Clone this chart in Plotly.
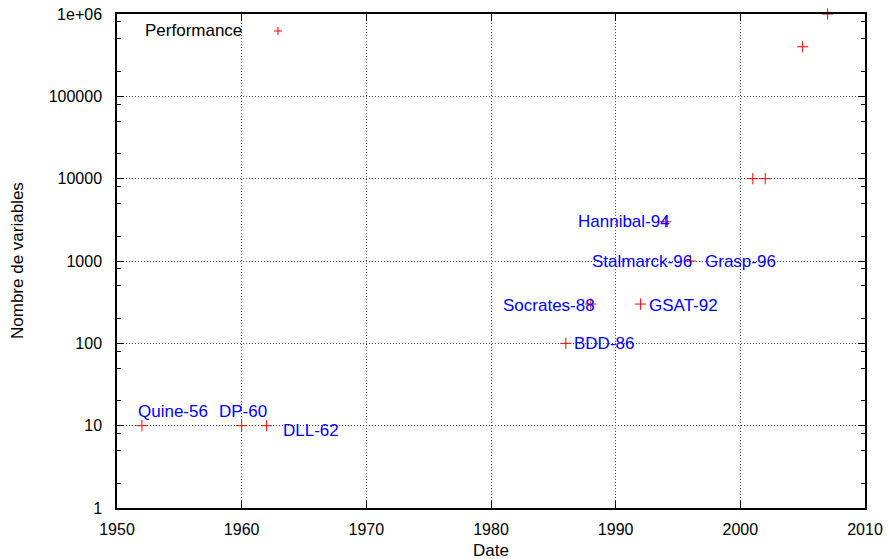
import math
import plotly.graph_objects as go

# Solver milestones: year and number of variables handled
years = [1952, 1960, 1962, 1986, 1988, 1992, 1994, 1996, 2001, 2002, 2005, 2007]
variables = [10, 10, 10, 100, 300, 300, 3000, 1000, 10000, 10000, 400000, 1000000]

# Named solvers shown as labels next to their points
label_names = ["Quine-56", "DP-60", "DLL-62", "BDD-86", "Socrates-88", "GSAT-92",
               "Hannibal-94", "Stalmarck-96", "Grasp-96"]
label_years = [1952, 1960, 1962, 1986, 1988, 1992, 1994, 1996, 1996]
label_vars = [10, 10, 10, 100, 300, 300, 3000, 1000, 1000]

x_ticks = [1950, 1960, 1970, 1980, 1990, 2000, 2010]
y_ticks = [1, 10, 100, 1000, 10000, 100000, 1000000]
y_tick_text = ["1", "10", "100", "1000", "10000", "100000", "1e+06"]

FONT = "Liberation Sans, Arial, Helvetica, sans-serif"
FS = 17
TICK_FS = 16

# label placement: (xanchor, xshift, yshift) in pixels
label_style = {
    "Quine-56": ("left", -6, 14),
    "DP-60": ("left", -25, 14),
    "DLL-62": ("left", 14, -5),
    "BDD-86": ("left", 6, 0),
    "Socrates-88": ("right", 6, -1),
    "GSAT-92": ("left", 6, -1),
    "Hannibal-94": ("right", 6, 0),
    "Stalmarck-96": ("right", 4, 0),
    "Grasp-96": ("left", 13, 0),
}

fig = go.Figure()
fig.add_trace(go.Scatter(
    x=years, y=variables, mode="markers", name="Performance",
    marker=dict(symbol="cross-thin", size=8, line=dict(color="#ff0000", width=1)),
    cliponaxis=False, showlegend=False,
))

annotations = []
for name, xv, yv in zip(label_names, label_years, label_vars):
    anchor, dx, dy = label_style[name]
    annotations.append(dict(
        x=xv, y=math.log10(yv), xref="x", yref="y", text=name, showarrow=False,
        xanchor=anchor, yanchor="middle", xshift=dx, yshift=dy,
        font=dict(family=FONT, size=FS, color="#0000ff"),
    ))

# key: text followed by its sample marker
key_px, key_py = 0.2152, 0.9656
annotations.append(dict(
    x=0.1692, y=key_py, xref="paper", yref="paper", text="Performance",
    showarrow=False, xanchor="right", yanchor="middle",
    font=dict(family=FONT, size=FS, color="black"),
))

# axis titles
annotations.append(dict(
    x=0.5, y=0, xref="paper", yref="paper", text="Date", showarrow=False,
    xanchor="center", yanchor="middle", yshift=-42,
    font=dict(family=FONT, size=FS, color="black"),
))
annotations.append(dict(
    x=0, y=0.5, xref="paper", yref="paper", text="Nombre de variables",
    showarrow=False, textangle=-90, xanchor="center", yanchor="middle", xshift=-100,
    font=dict(family=FONT, size=FS, color="black"),
))

dx_p, dy_p = 4 / 748, 4 / 494
shapes = [
    dict(type="line", xref="paper", yref="paper", x0=key_px - dx_p, x1=key_px + dx_p,
         y0=key_py, y1=key_py, line=dict(color="#ff0000", width=1)),
    dict(type="line", xref="paper", yref="paper", x0=key_px, x1=key_px,
         y0=key_py - dy_p, y1=key_py + dy_p, line=dict(color="#ff0000", width=1)),
]

minor_vals = []
for d in range(0, 6):
    for m in (2, 5, 8):
        minor_vals.append(m * 10 ** d)

axis_common = dict(
    showline=True, linecolor="black", linewidth=1.5, mirror="ticks",
    ticks="inside", ticklen=7, tickcolor="black", tickwidth=1,
    showgrid=True, gridcolor="#444444", griddash="1px,2px", gridwidth=1,
    zeroline=False, automargin=False,
    tickfont=dict(family=FONT, size=TICK_FS, color="black"),
)

fig.update_layout(
    width=890, height=559,
    margin=dict(l=117, r=25, t=14, b=51),
    paper_bgcolor="white", plot_bgcolor="white",
    annotations=annotations, shapes=shapes,
    xaxis=dict(
        range=[1950, 2010], tickvals=x_ticks, ticklabelstandoff=6,
        **axis_common,
    ),
    yaxis=dict(
        type="log", range=[0, 6], tickvals=y_ticks, ticktext=y_tick_text,
        ticklabelstandoff=10,
        minor=dict(tickvals=minor_vals, ticks="inside", ticklen=4, tickcolor="black", showgrid=False),
        **axis_common,
    ),
)

fig.write_html("out.html")
